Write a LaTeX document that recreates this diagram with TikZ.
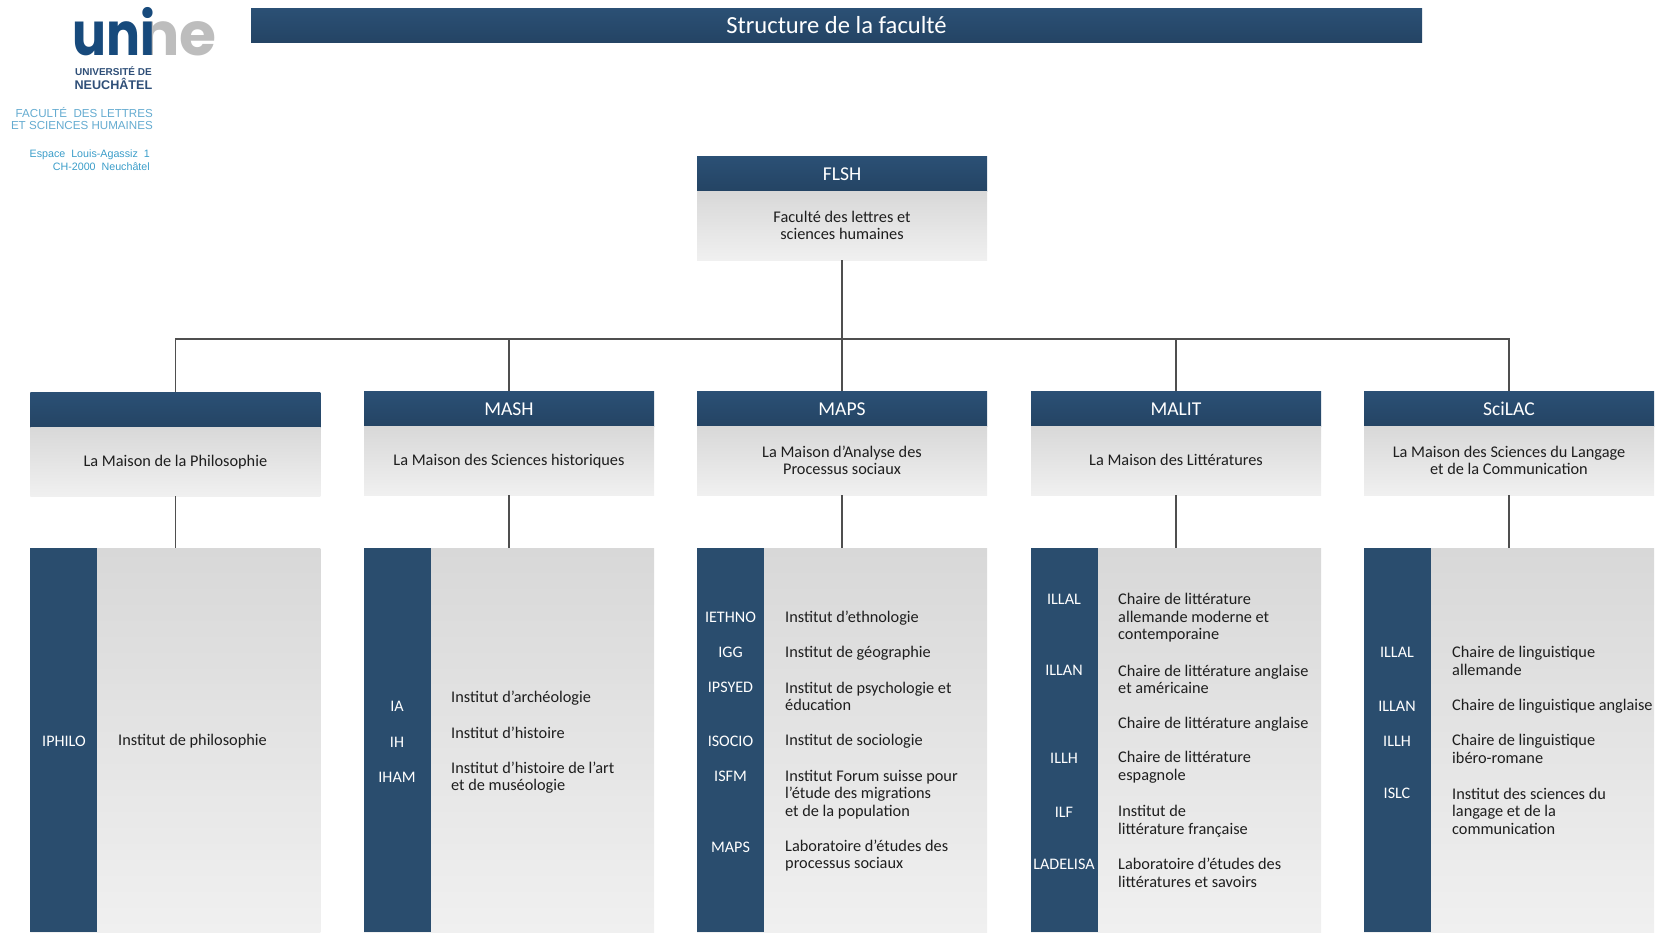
\documentclass[tikz,border=0pt]{standalone}
\usepackage{fontspec}
\setmainfont{Carlito}
\newfontfamily\logofont{Liberation Sans}
\newfontfamily\unifont{Poppins}
\newcommand{\evenh}{\vphantom{Ápg}}
\definecolor{navytop}{HTML}{2B5075}
\definecolor{navybot}{HTML}{244464}
\definecolor{navyflat}{HTML}{2A4D6E}
\definecolor{lighttop}{HTML}{D8D8D8}
\definecolor{lightbot}{HTML}{F0F0F0}
\definecolor{ink}{HTML}{1E1E1E}
\definecolor{linecol}{HTML}{4F4F4F}
\definecolor{uniblue}{HTML}{174A7C}
\definecolor{unigrey}{HTML}{BDBDBD}
\definecolor{logoA}{HTML}{2F4F78}
\definecolor{logoB}{HTML}{64ABD0}
\definecolor{logoC}{HTML}{3B9DC9}
\tikzset{
 headbox/.style={inner sep=0pt,outer sep=0pt,minimum width=290pt,minimum height=35pt,anchor=north west,top color=navytop,bottom color=navybot,text=white,font=\fontsize{19.6}{22}\selectfont},
 bodybox/.style={inner sep=0pt,outer sep=0pt,minimum width=290pt,minimum height=69pt,anchor=north west,top color=lighttop,bottom color=lightbot,text=ink,align=center,font=\fontsize{16.3}{17.6}\selectfont},
 lowerbox/.style={inner sep=0pt,outer sep=0pt,minimum width=290pt,minimum height=384pt,anchor=north west,top color=lighttop,bottom color=lightbot},
 stripbox/.style={inner sep=0pt,outer sep=0pt,minimum width=67pt,minimum height=384pt,anchor=north west,fill=navyflat},
 codelab/.style={inner sep=0pt,text=white,font=\fontsize{16.1}{17.6}\selectfont},
 desclab/.style={inner sep=0pt,anchor=west,align=left,text=ink,font=\fontsize{16.3}{17.6}\selectfont},
 conn/.style={draw=linecol,line width=1.7pt},
 logotxt/.style={inner sep=0pt,anchor=east},
}
\begin{document}
\begin{tikzpicture}[x=1pt,y=-1pt]
\useasboundingbox (0,0) rectangle (1665,932);
% logo
\node[inner sep=0pt,anchor=base west,text=unigrey,font=\unifont\bfseries\fontsize{60}{60}\selectfont] (logon) at (139,55) {ne};
\node[inner sep=0pt,anchor=base west,text=uniblue,font=\unifont\bfseries\fontsize{60}{60}\selectfont] (logou) at (72,55) {\scalebox{0.84}[1]{uni}};
\node[logotxt,text=logoA,font=\logofont\bfseries\fontsize{10}{12}\selectfont] (l1) at (152,71.5) {UNIVERSITÉ DE};
\node[logotxt,text=logoA,font=\logofont\bfseries\fontsize{12.6}{14}\selectfont] (l2) at (152.5,83.5) {NEUCHÂTEL};
\node[logotxt,text=logoB,font=\logofont\fontsize{11.6}{14}\selectfont] (l3) at (153,112.5) {FACULTÉ\ \ DES LETTRES};
\node[logotxt,text=logoB,font=\logofont\fontsize{11.6}{14}\selectfont] (l4) at (153,125.5) {ET SCIENCES HUMAINES};
\node[logotxt,text=logoC,font=\logofont\fontsize{10.7}{12}\selectfont] (l5) at (150,155) {Espace\ \ Louis-Agassiz\ \ 1};
\node[logotxt,text=logoC,font=\logofont\fontsize{10.7}{12}\selectfont] (l6) at (150,167) {CH-2000\ \ Neuchâtel};
% title
\node[headbox,minimum width=1171pt,minimum height=34pt,font=\fontsize{24.6}{26}\selectfont] (title) at (251,8) {\evenh Structure de la faculté};
% top
\node[headbox] (flshhead) at (697,156) {\evenh FLSH};
\node[bodybox] (flshbody) at (697,191) {Faculté des lettres et\\sciences humaines};
% columns: headers
\node[headbox] (philohead) at (30.4,392) {};
\node[bodybox] (philobody) at (30.4,427) {\evenh La Maison de la Philosophie};
\node[headbox] (mashhead) at (364,391) {\evenh MASH};
\node[bodybox] (mashbody) at (364,426) {\evenh La Maison des Sciences historiques};
\node[headbox] (mapshead) at (697,391) {\evenh MAPS};
\node[bodybox] (mapsbody) at (697,426) {La Maison d’Analyse des\\Processus sociaux};
\node[headbox] (malithead) at (1031,391) {\evenh MALIT};
\node[bodybox] (malitbody) at (1031,426) {\evenh La Maison des Littératures};
\node[headbox] (scilachead) at (1364,391) {\evenh SciLAC};
\node[bodybox] (scilacbody) at (1364,426) {La Maison des Sciences du Langage\\et de la Communication};
% lower boxes
\node[lowerbox] (philolow) at (30.4,548) {};
\node[stripbox] (philostrip) at (30.4,548) {};
\node[lowerbox] (mashlow) at (364,548) {};
\node[stripbox] (mashstrip) at (364,548) {};
\node[lowerbox] (mapslow) at (697,548) {};
\node[stripbox] (mapsstrip) at (697,548) {};
\node[lowerbox] (malitlow) at (1031,548) {};
\node[stripbox] (malitstrip) at (1031,548) {};
\node[lowerbox] (scilaclow) at (1364,548) {};
\node[stripbox] (scilacstrip) at (1364,548) {};
% connectors
\coordinate (bus) at (842,339);
\draw[conn] (flshbody.south) -- (mapshead.north);
\draw[conn] (philohead.north) |- (bus) -| (scilachead.north);
\draw[conn] (mashhead.north) -- (mashhead.north |- bus);
\draw[conn] (malithead.north) -- (malithead.north |- bus);
\draw[conn] (philobody.south) -- (philolow.north);
\draw[conn] (mashbody.south) -- (mashlow.north);
\draw[conn] (mapsbody.south) -- (mapslow.north);
\draw[conn] (malitbody.south) -- (malitlow.north);
\draw[conn] (scilacbody.south) -- (scilaclow.north);
% col 1
\node[codelab] (c1a) at (64,741) {IPHILO};
\node[desclab] (d1a) at (118,741) {Institut de philosophie};
% col 2
\node[codelab] (c2a) at (397,706) {IA};
\node[codelab] (c2b) at (397,742) {IH};
\node[codelab] (c2c) at (397,777) {IHAM};
\node[desclab] (d2a) at (451,698) {Institut d’archéologie};
\node[desclab] (d2b) at (451,733) {Institut d’histoire};
\node[desclab] (d2c) at (451,777.5) {Institut d’histoire de l’art\\et de muséologie};
% col 3
\node[codelab] (c3a) at (730.5,617) {IETHNO};
\node[codelab] (c3b) at (730.5,652) {IGG};
\node[codelab] (c3c) at (730.5,687) {IPSYED};
\node[codelab] (c3d) at (730.5,741) {ISOCIO};
\node[codelab] (c3e) at (730.5,776) {ISFM};
\node[codelab] (c3f) at (730.5,847) {MAPS};
\node[desclab] (d3a) at (785,618) {Institut d’ethnologie};
\node[desclab] (d3b) at (785,653) {Institut de géographie};
\node[desclab] (d3c) at (785,696.5) {Institut de psychologie et\\éducation};
\node[desclab] (d3d) at (785,741) {Institut de sociologie};
\node[desclab] (d3e) at (785,794.5) {Institut Forum suisse pour\\l’étude des migrations\\et de la population};
\node[desclab] (d3f) at (785,855.5) {Laboratoire d’études des\\processus sociaux};
% col 4
\node[codelab] (c4a) at (1064,599) {ILLAL};
\node[codelab] (c4b) at (1064,670) {ILLAN};
\node[codelab] (c4c) at (1064,758) {ILLH};
\node[codelab] (c4d) at (1064,812) {ILF};
\node[codelab] (c4e) at (1064,864) {LADELISA};
\node[desclab] (d4a) at (1118,618) {Chaire de littérature\\allemande moderne et\\contemporaine};
\node[desclab] (d4b) at (1118,679.5) {Chaire de littérature anglaise\\et américaine};
\node[desclab] (d4c) at (1118,724) {Chaire de littérature anglaise};
\node[desclab] (d4d) at (1118,767.5) {Chaire de littérature\\espagnole};
\node[desclab] (d4e) at (1118,821) {Institut de\\littérature française};
\node[desclab] (d4f) at (1118,873) {Laboratoire d’études des\\littératures et savoirs};
% col 5
\node[codelab] (c5a) at (1397,652) {ILLAL};
\node[codelab] (c5b) at (1397,706) {ILLAN};
\node[codelab] (c5c) at (1397,741) {ILLH};
\node[codelab] (c5d) at (1397,793) {ISLC};
\node[desclab] (d5a) at (1452,661) {Chaire de linguistique\\allemande};
\node[desclab] (d5b) at (1452,706) {Chaire de linguistique anglaise};
\node[desclab] (d5c) at (1452,749) {Chaire de linguistique\\ibéro-romane};
\node[desclab] (d5d) at (1452,811) {Institut des sciences du\\langage et de la\\communication};
\end{tikzpicture}
\end{document}
